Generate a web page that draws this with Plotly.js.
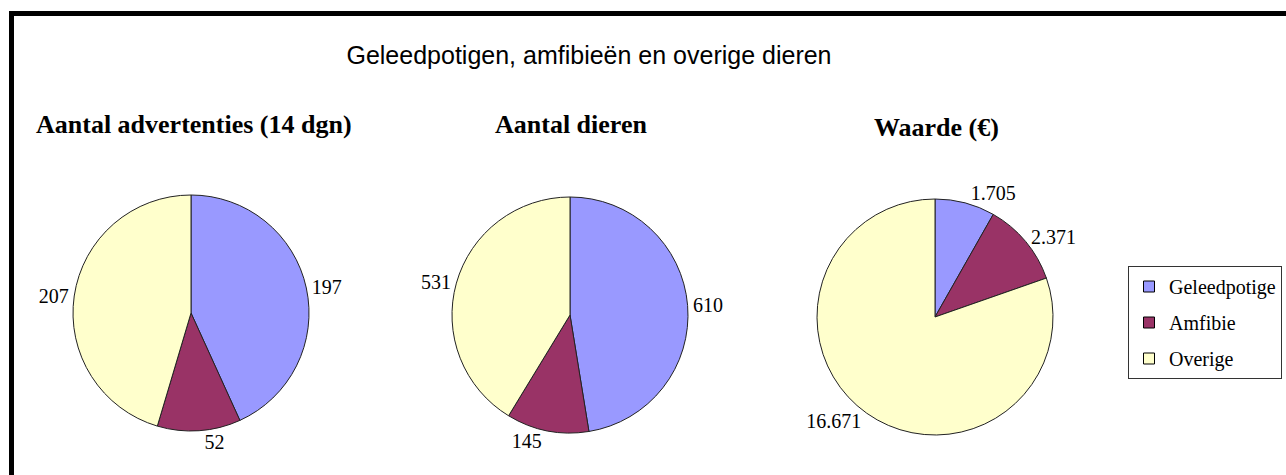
<!DOCTYPE html>
<html>
<head>
<meta charset="utf-8">
<script src="https://cdn.plot.ly/plotly-3.0.1.min.js"></script>
<style>
  html, body { margin: 0; padding: 0; background: #fff; }
  #chart { width: 1286px; height: 475px; }
</style>
</head>
<body>
<div id="chart"></div>
<script>
// ---- Data ----
const categories = ['Geleedpotige', 'Amfibie', 'Overige'];
const advertenties = [197, 52, 207];
const dieren = [610, 145, 531];
const waarde = [1705, 2371, 16671];
const mainTitle = 'Geleedpotigen, amfibieën en overige dieren';
const subTitles = ['Aantal advertenties (14 dgn)', 'Aantal dieren', 'Waarde (€)'];
const colors = ['#9999FF', '#993366', '#FFFFCC'];

// ---- Layout helpers (pixel -> paper) ----
const W = 1286, H = 475;
const px = x => x / W;
const py = y => 1 - y / H;
const R = 118;
function domainFor(cx, cy) {
  return { x: [px(cx - R), px(cx + R)], y: [py(cy + R), py(cy - R)] };
}
const pieCenters = [[191, 313], [570, 315], [935, 317]];
const seriesList = [advertenties, dieren, waarde];

const serif = 'Liberation Serif, Times New Roman, serif';
const sans = 'Liberation Sans, Arial, sans-serif';

const traces = seriesList.map((vals, i) => ({
  type: 'pie',
  labels: categories,
  values: vals,
  sort: false,
  direction: 'clockwise',
  rotation: 0,
  domain: domainFor(pieCenters[i][0], pieCenters[i][1]),
  marker: { colors: colors, line: { color: '#222', width: 1 } },
  textposition: 'outside',
  texttemplate: '%{value:,}',
  textfont: { family: serif, size: 20, color: '#000' },
  showlegend: false,
  hoverinfo: 'label+value+percent'
}));

// legend entries (no data drawn)
categories.forEach((c, i) => {
  traces.push({
    type: 'scatter',
    x: [null], y: [null],
    mode: 'markers',
    name: c,
    legendgroup: c,
    marker: { symbol: 'square', size: 11, color: colors[i], line: { color: '#000', width: 1 } },
    hoverinfo: 'skip'
  });
});

const subX = [194, 571, 936];
const subY = [124, 124, 127];
const annotations = subTitles.map((t, i) => ({
  text: '<b>' + t + '</b>',
  xref: 'paper', yref: 'paper',
  x: px(subX[i]), y: py(subY[i]),
  xanchor: 'center', yanchor: 'middle',
  showarrow: false,
  font: { family: serif, size: 26, color: '#000' }
}));

const layout = {
  width: W, height: H,
  margin: { l: 0, r: 0, t: 0, b: 0, autoexpand: false },
  paper_bgcolor: '#fff',
  plot_bgcolor: '#fff',
  separators: ',.',
  title: {
    text: mainTitle,
    x: px(589), xanchor: 'center',
    y: py(55), yanchor: 'middle',
    font: { family: sans, size: 25, color: '#000' }
  },
  xaxis: { visible: false, showgrid: false, zeroline: false },
  yaxis: { visible: false, showgrid: false, zeroline: false },
  showlegend: true,
  legend: {
    x: px(1128), xanchor: 'left',
    y: py(266), yanchor: 'top',
    bgcolor: '#fff',
    bordercolor: '#333',
    borderwidth: 1,
    font: { family: serif, size: 20, color: '#000' },
    tracegroupgap: 7,
    traceorder: 'grouped'
  },
  annotations: annotations,
  shapes: [
    { type: 'rect', xref: 'paper', yref: 'paper', x0: px(9), x1: 1, y0: py(16), y1: py(11),
      fillcolor: '#000', line: { width: 0 } },
    { type: 'rect', xref: 'paper', yref: 'paper', x0: px(9), x1: px(14), y0: 0, y1: py(11),
      fillcolor: '#000', line: { width: 0 } }
  ]
};

Plotly.newPlot('chart', traces, layout, { displayModeBar: false });
</script>
</body>
</html>
